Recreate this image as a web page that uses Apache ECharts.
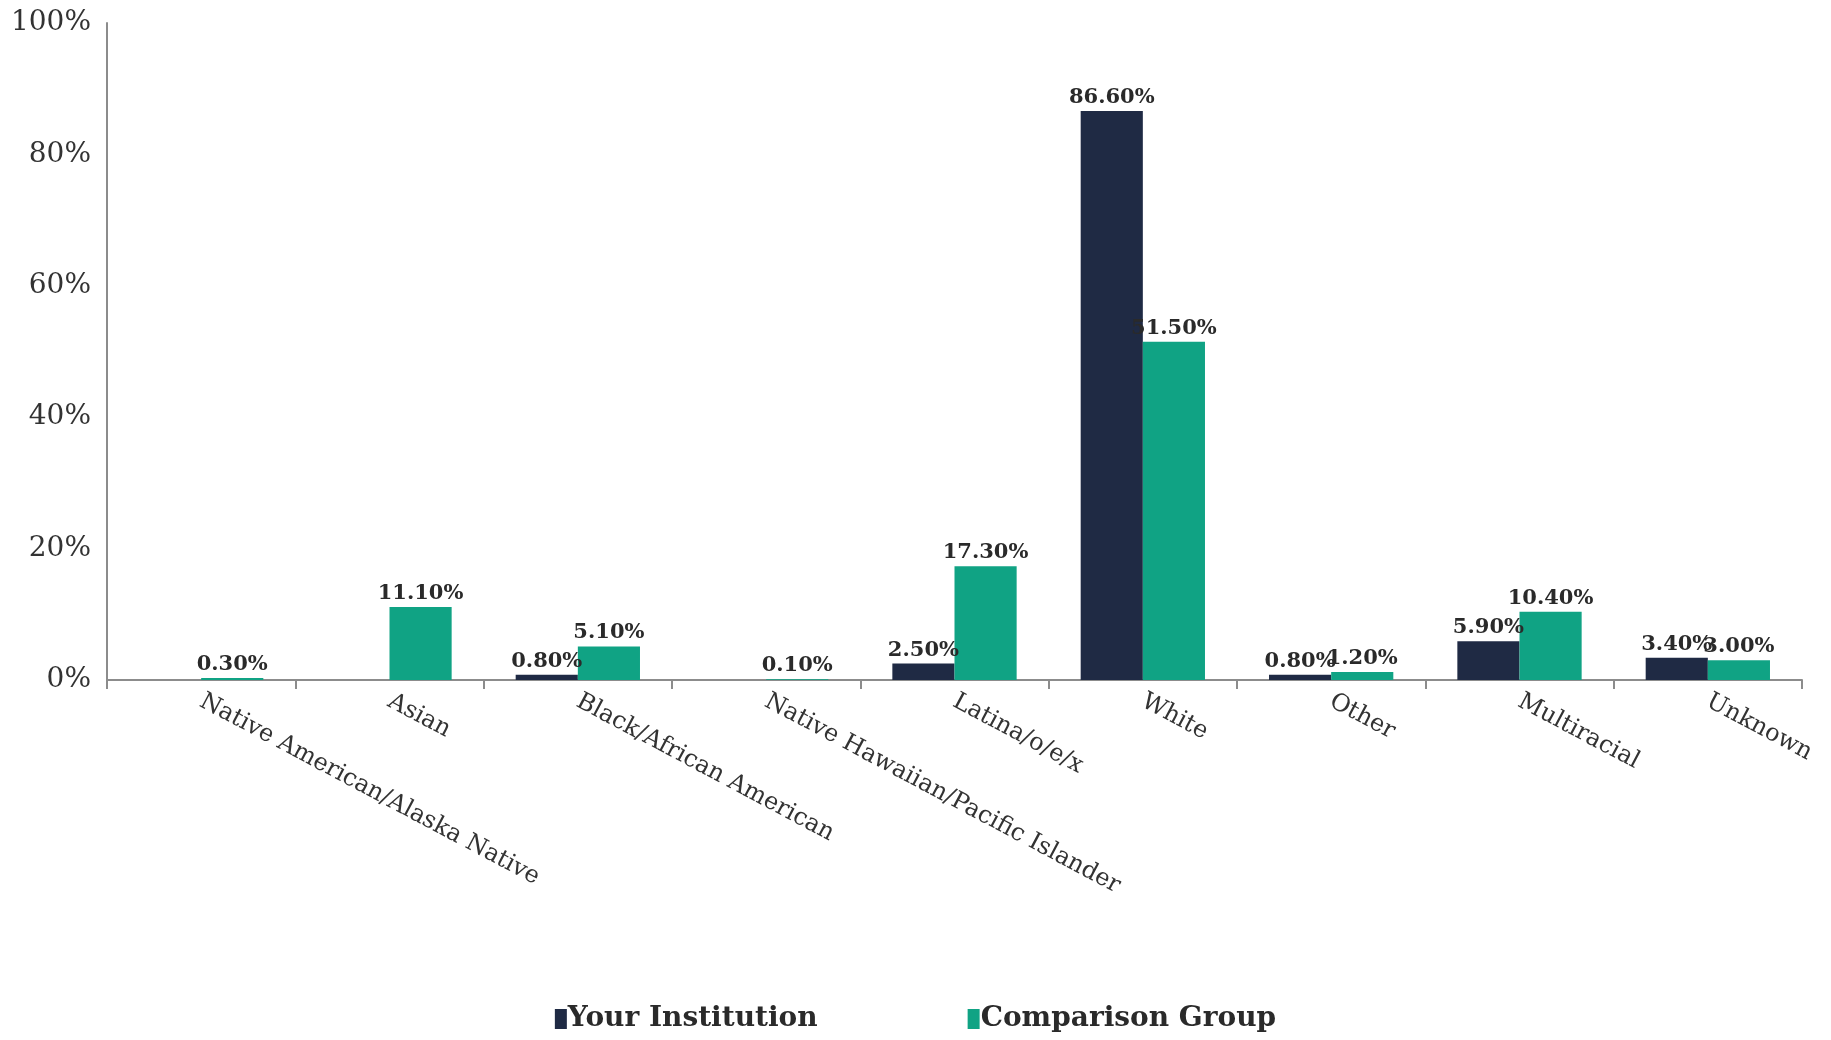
<!DOCTYPE html>
<html>
<head>
<meta charset="utf-8">
<script src="https://cdn.jsdelivr.net/npm/echarts@6/dist/echarts.min.js"></script>
<style>
html,body{margin:0;padding:0;background:#fff;}
#chart{width:1831px;height:1040px;}
</style>
</head>
<body>
<div id="chart"></div>
<script>
const categories = ["Native American/Alaska Native","Asian","Black/African American","Native Hawaiian/Pacific Islander","Latina/o/e/x","White","Other","Multiracial","Unknown"];
const yourInstitution = [0, 0, 0.8, 0, 2.5, 86.6, 0.8, 5.9, 3.4];
const comparisonGroup = [0.3, 11.1, 5.1, 0.1, 17.3, 51.5, 1.2, 10.4, 3.0];
const seriesNames = ["Your Institution","Comparison Group"];
const yTicks = {min:0, max:100, interval:20};

const FONT = '"DejaVu Serif", "Liberation Serif", serif';
const labelCfg = {
  show: true, position: 'top', distance: 3,
  fontFamily: FONT, fontSize: 21, fontWeight: 'bold', color: '#2a2a2a',
  formatter: p => p.value === 0 ? '' : p.value.toFixed(2) + '%'
};
const chart = echarts.init(document.getElementById('chart'));
chart.setOption({
  backgroundColor: '#fff',
  animation: false,
  grid: {left: 107, right: 29, top: 23, bottom: 360, containLabel: false},
  legend: {
    bottom: 2, left: 'center', itemWidth: 12, itemHeight: 20, itemGap: 150,
    icon: 'rect',
    textStyle: {fontFamily: FONT, fontSize: 28, fontWeight: 'bold', color: '#2a2a2a', padding: [0,0,0,-4]},
    data: seriesNames
  },
  xAxis: {
    type: 'category', data: categories,
    axisLine: {lineStyle: {color: '#8c8c8c', width: 2}},
    axisTick: {show: true, alignWithLabel: false, length: 9, lineStyle: {color: '#8c8c8c', width: 2}},
    axisLabel: {rotate: -28, interval: 0, fontFamily: FONT, fontSize: 24, color: '#333', margin: 20}
  },
  yAxis: {
    type: 'value', min: yTicks.min, max: yTicks.max, interval: yTicks.interval,
    axisLine: {show: true, lineStyle: {color: '#8c8c8c', width: 2}},
    axisTick: {show: false},
    splitLine: {show: false},
    axisLabel: {formatter: '{value}%', fontFamily: FONT, fontSize: 28, color: '#333', margin: 16}
  },
  series: [
    {name: seriesNames[0], type: 'bar', data: yourInstitution, barGap: '0%', barCategoryGap: '34%',
     itemStyle: {color: '#1f2a44'}, label: labelCfg},
    {name: seriesNames[1], type: 'bar', data: comparisonGroup,
     itemStyle: {color: '#10a384'}, label: labelCfg}
  ]
});
</script>
</body>
</html>
